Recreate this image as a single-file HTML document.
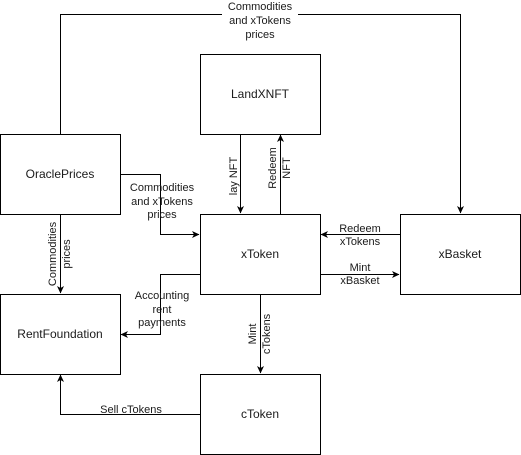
<!DOCTYPE html>
<html><head><style>body{margin:0;background:#fff}svg{display:block}text{font-family:"Liberation Sans",sans-serif;fill:#1a1a1a}</style></head>
<body>
<svg width="521" height="455" viewBox="0 0 521 455" xmlns="http://www.w3.org/2000/svg">
<defs><marker id="a" markerWidth="8" markerHeight="8" refX="7" refY="4" orient="auto" markerUnits="userSpaceOnUse"><path d="M0,0.5 L7.5,4 L0,7.5 L2,4 Z" fill="#000"/></marker></defs>
<g fill="#fff" stroke="#000" stroke-width="1">
<rect x="200.5" y="54.5" width="120" height="80"/>
<rect x="0.5" y="134.5" width="120" height="80"/>
<rect x="200.5" y="214.5" width="120" height="80"/>
<rect x="400.5" y="214.5" width="120" height="80"/>
<rect x="0.5" y="294.5" width="120" height="80"/>
<rect x="200.5" y="374.5" width="120" height="80"/>
</g>
<g fill="none" stroke="#000" stroke-width="1" marker-end="url(#a)">
<path d="M60.5,134 V14.5 H460.5 V213"/>
<path d="M120,174.5 H160.5 V234.5 H199"/>
<path d="M60.5,214 V293"/>
<path d="M240.5,134 V213"/>
<path d="M280.5,214 V135"/>
<path d="M400,234.5 H321"/>
<path d="M320,274.5 H399"/>
<path d="M200,274.5 H160.5 V334.5 H121"/>
<path d="M260.5,294 V373"/>
<path d="M200,414.5 H60.5 V375"/>
</g>
<g font-size="12" text-anchor="middle">
<text x="260" y="98">LandXNFT</text>
<text x="60" y="178">OraclePrices</text>
<text x="260" y="258">xToken</text>
<text x="460" y="258">xBasket</text>
<text x="60" y="338">RentFoundation</text>
<text x="260" y="418">cToken</text>
</g>
<g font-size="11" text-anchor="middle">
<rect x="222" y="0" width="76" height="40" fill="#fff"/>
<text x="260" y="10">Commodities</text><text x="260" y="24">and xTokens</text><text x="260" y="38">prices</text>
<text x="162" y="191">Commodities</text><text x="162" y="205">and xTokens</text><text x="162" y="218">prices</text>
<text x="360" y="232">Redeem</text><text x="360" y="245">xTokens</text>
<text x="360" y="271">Mint</text><text x="360" y="284">xBasket</text>
<text x="162" y="299">Accounting</text><text x="162" y="313">rent</text><text x="162" y="326">payments</text>
<text x="131" y="413">Sell cTokens</text>
<text transform="translate(237,176) rotate(-90)">lay NFT</text>
<text transform="translate(276,168) rotate(-90)">Redeem</text><text transform="translate(290,168) rotate(-90)">NFT</text>
<text transform="translate(56,254) rotate(-90)">Commodities</text><text transform="translate(70,254) rotate(-90)">prices</text>
<text transform="translate(256,334) rotate(-90)">Mint</text><text transform="translate(270,334) rotate(-90)">cTokens</text>
</g>
</svg>
</body></html>
